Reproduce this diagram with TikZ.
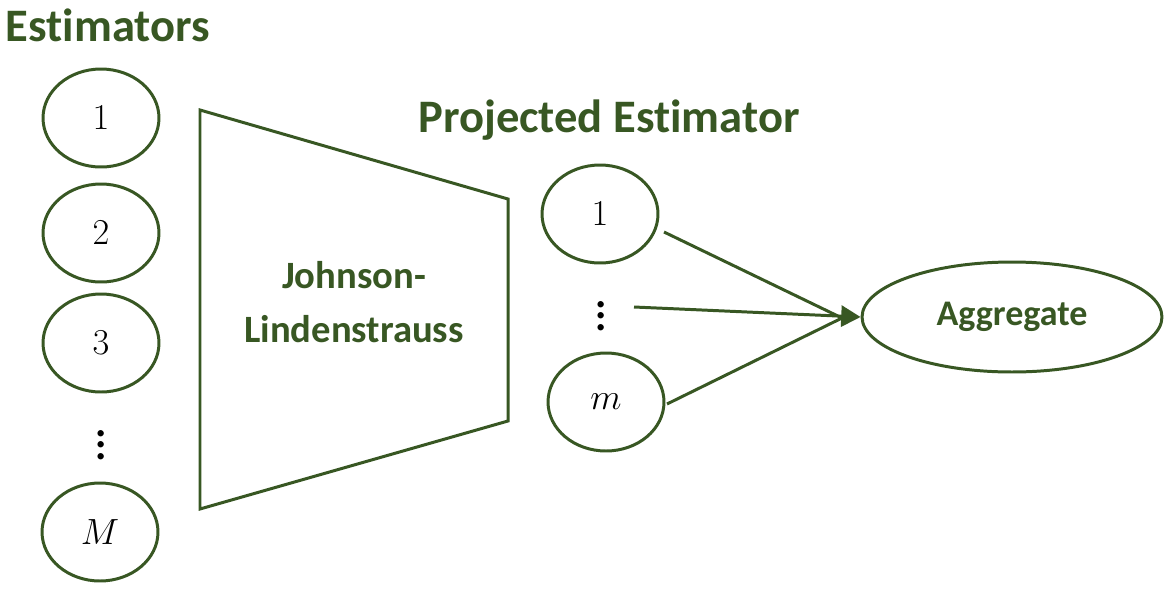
\documentclass[tikz,border=0pt]{standalone}
\usepackage[no-math]{fontspec}
\setmainfont{Carlito}[Ligatures=NoCommon]
\usepackage{tikz}
\usetikzlibrary{shapes.geometric, arrows.meta, positioning}
\definecolor{mygreen}{RGB}{56,87,35}
\newcommand{\myvdots}{\vbox{\baselineskip6.6pt\lineskiplimit0pt\hbox{.}\hbox{.}\hbox{.}}}
\tikzset{
  >=latex, % for default LaTeX arrow head
  est/.style={ellipse,draw=mygreen,line width=1.7pt,inner sep=0,
    minimum width=2.32cm,minimum height=1.96cm,font=\fontsize{22}{26}\selectfont},
  dots/.style={inner sep=0,font=\fontsize{30}{30}\selectfont},
  agg/.style={ellipse,draw=mygreen,line width=1.7pt,inner sep=0,
    minimum width=6cm,minimum height=2.2cm,text=mygreen,
    font=\fontsize{20.5}{24}\bfseries},
  title/.style={text=mygreen,font=\fontsize{26.5}{30}\bfseries},
  connect/.style={mygreen,line width=1.7pt},
  connect arrow/.style={connect,-{Triangle[length=11pt,width=12pt]}}
}

\begin{document}
\begin{tikzpicture}[x=0.02cm, y=-0.02cm]
  \useasboundingbox (0,0) rectangle (1175,592);

  % Titles
  \node[title] (esttitle) at (108,25) {Estimators};
  \node[title] (projtitle) at (609,120) {Projected Estimator};

  % Estimators
  \node[est] (e1) at (101,118) {$1$};
  \node[est] (e2) at (101,233) {$2$};
  \node[est] (e3) at (101,343) {$3$};
  \node[dots] (edots) at (101,445) {\myvdots};
  \node[est] (eM) at (100,532) {$M$};

  % Johnson-Lindenstrauss map
  \draw[connect] (200,110) -- (508,199) -- (508,421) -- (200,509) -- cycle;
  \node[text=mygreen, font=\fontsize{22}{31}\bfseries, align=center] (jl) at (354,302)
    {Johnson-\\Lindenstrauss};

  % Projected estimators
  \node[est] (p1) at (600,214) {$1$};
  \node[dots] (pdots) at (601,316) {\myvdots};
  \node[est] (pm) at (606,402) {$m$};

  % Aggregate
  \node[agg] (agg) at (1012,317) {Aggregate};
  \coordinate (meet) at (842,318);
  \draw[connect] (664,232) -- (meet);
  \draw[connect] (667,404) -- (meet);
  \draw[connect arrow] (634,307) -- (agg.west);

\end{tikzpicture}
\end{document}
